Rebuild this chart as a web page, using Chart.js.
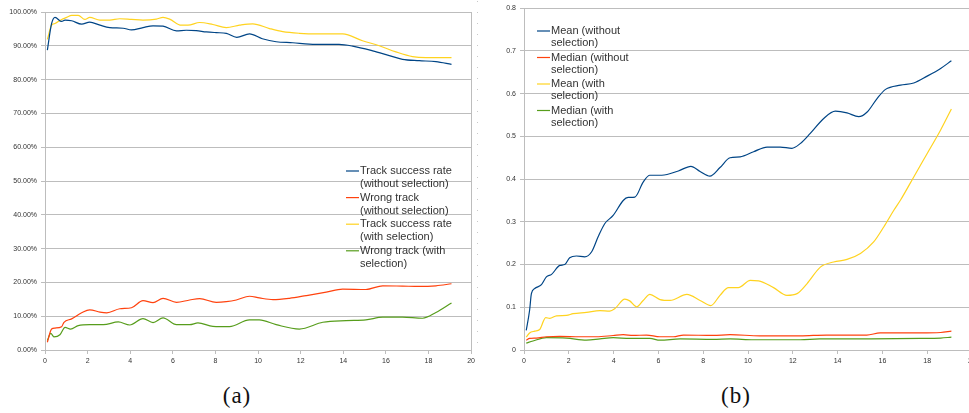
<!DOCTYPE html>
<html>
<head>
<meta charset="utf-8">
<script src="https://cdn.jsdelivr.net/npm/chart.js@4.4.1/dist/chart.umd.min.js"></script>
<style>
  html, body { margin: 0; padding: 0; background: #fff; overflow: hidden; width: 969px; height: 413px; }
  canvas { position: absolute; top: 0; }
  #ca { left: 0; }
  #cb { left: 480px; }
  .cap { position: absolute; top: 383px; width: 60px; text-align: center; font-family: "Liberation Serif", "DejaVu Serif", serif; font-size: 23px; line-height: 26px; color: #111; letter-spacing: 1px; }
  #dots { position: absolute; left: 477px; top: 1px; width: 1px; height: 345px;
          background: repeating-linear-gradient(to bottom, #c8c8c8 0, #c8c8c8 1px, transparent 1px, transparent 11px); }
</style>
</head>
<body>
<canvas id="ca" width="478" height="372"></canvas>
<div id="dots"></div>
<canvas id="cb" width="500" height="372"></canvas>
<div class="cap" style="left:207px">(a)</div>
<div class="cap" style="left:706px">(b)</div>
<script>
// ---- chart (a): track rates in percent ----
var aSuccessNoX = [0.11, 0.31, 0.47, 0.78, 0.94, 1.25, 1.72, 2.1, 2.58, 3.04, 3.67, 4.06, 4.6, 5.07, 5.54, 6.17, 6.63, 7.1, 7.57, 8.04, 8.51, 9.0, 9.6, 10.2, 10.85, 11.63, 12.4, 13.2, 13.8, 14.44, 15.38, 16.16, 16.78, 17.56, 18.35, 19.08];
var aSuccessNoY = [88.7, 96.6, 98.4, 97.2, 97.6, 97.4, 96.4, 97.0, 96.1, 95.4, 95.2, 94.7, 95.4, 95.9, 95.8, 94.4, 94.6, 94.5, 94.1, 93.9, 93.7, 92.5, 93.5, 92.1, 91.2, 90.9, 90.5, 90.4, 90.4, 89.9, 88.5, 87.1, 86.0, 85.6, 85.3, 84.5];

var aWrongNoX = [0.11, 0.31, 0.47, 0.78, 0.89, 1.25, 1.72, 2.1, 2.58, 2.9, 3.51, 4.06, 4.6, 5.07, 5.54, 6.17, 6.79, 7.26, 8.04, 8.51, 8.98, 9.6, 10.06, 10.7, 11.47, 12.26, 13.2, 13.97, 15.06, 15.85, 16.78, 17.56, 18.35, 19.08];
var aWrongNoY = [2.3, 6.2, 6.5, 6.9, 8.2, 9.2, 11.0, 11.9, 11.2, 11.0, 12.2, 12.5, 14.6, 14.0, 15.3, 14.1, 14.8, 15.2, 14.1, 14.3, 14.8, 15.9, 15.4, 14.9, 15.3, 16.1, 17.1, 18.0, 17.9, 19.0, 18.9, 18.8, 19.0, 19.6];

var aSuccessSelX = [0.11, 0.31, 0.47, 0.78, 1.02, 1.25, 1.56, 1.87, 2.1, 2.58, 3.04, 3.51, 4.06, 4.6, 5.23, 5.54, 5.85, 6.4, 6.71, 7.26, 7.88, 8.51, 9.13, 9.75, 10.54, 11.16, 11.94, 12.73, 13.97, 14.9, 15.69, 16.47, 17.25, 17.88, 19.08];
var aSuccessSelY = [91.9, 96.1, 96.6, 97.8, 98.4, 99.0, 99.0, 97.8, 98.4, 97.6, 97.6, 98.0, 97.8, 97.6, 97.9, 98.4, 97.9, 96.1, 96.1, 96.9, 96.3, 95.4, 96.1, 96.5, 95.1, 94.2, 93.7, 93.5, 93.5, 91.5, 90.0, 88.2, 86.8, 86.5, 86.5];

var aWrongSelX = [0.11, 0.27, 0.42, 0.7, 0.94, 1.2, 1.56, 2.1, 2.74, 3.44, 3.98, 4.6, 5.07, 5.54, 6.17, 6.79, 7.18, 7.88, 8.66, 9.6, 10.06, 10.85, 11.94, 13.04, 14.13, 15.06, 15.85, 16.78, 17.72, 18.35, 19.08];
var aWrongSelY = [2.8, 4.9, 3.9, 4.5, 6.7, 6.2, 7.2, 7.5, 7.5, 8.3, 7.4, 9.3, 8.1, 9.5, 7.5, 7.5, 8.0, 7.0, 6.9, 8.9, 8.9, 7.5, 6.2, 8.2, 8.7, 8.9, 9.7, 9.7, 9.4, 11.1, 13.9];

var aLegend = [
  ["Track success rate", "(without selection)"],
  ["Wrong track", "(without selection)"],
  ["Track success rate", "(with selection)"],
  ["Wrong track (with", "selection)"]
];

// ---- chart (b): mean / median ----
var bMeanNoX = [0.1, 0.25, 0.33, 0.48, 0.78, 1.0, 1.23, 1.6, 1.82, 2.04, 2.34, 2.71, 3.02, 3.31, 3.61, 3.98, 4.43, 4.65, 4.95, 5.32, 5.62, 6.15, 6.89, 7.45, 7.86, 8.3, 8.75, 9.2, 9.65, 10.25, 10.85, 11.44, 11.96, 12.33, 12.78, 13.38, 13.9, 14.42, 14.94, 15.32, 15.77, 16.14, 16.81, 17.4, 18.0, 18.6, 19.08];
var bMeanNoY = [0.046, 0.093, 0.132, 0.144, 0.153, 0.171, 0.177, 0.198, 0.2, 0.216, 0.22, 0.218, 0.23, 0.265, 0.296, 0.315, 0.35, 0.357, 0.358, 0.393, 0.409, 0.409, 0.419, 0.43, 0.418, 0.407, 0.427, 0.45, 0.452, 0.464, 0.475, 0.475, 0.472, 0.483, 0.507, 0.542, 0.559, 0.555, 0.546, 0.557, 0.589, 0.61, 0.62, 0.625, 0.641, 0.659, 0.677];

var bMedianNoX = [0.1, 0.25, 0.55, 1.0, 1.6, 2.49, 3.24, 3.98, 4.43, 4.87, 5.47, 6.07, 6.67, 7.12, 8.45, 9.2, 10.53, 12.33, 13.5, 15.3, 15.9, 17.7, 18.6, 19.08];
var bMedianNoY = [0.023, 0.027, 0.028, 0.031, 0.032, 0.031, 0.031, 0.034, 0.036, 0.034, 0.035, 0.031, 0.031, 0.035, 0.034, 0.036, 0.033, 0.033, 0.035, 0.035, 0.04, 0.04, 0.041, 0.044];

var bMeanSelX = [0.1, 0.25, 0.48, 0.7, 0.97, 1.15, 1.45, 1.9, 2.19, 2.79, 3.39, 3.83, 4.06, 4.5, 4.72, 5.03, 5.32, 5.62, 6.07, 6.52, 7.27, 7.86, 8.34, 8.75, 9.13, 9.57, 10.1, 10.47, 11.14, 11.74, 12.19, 12.63, 13.23, 13.82, 14.42, 15.02, 15.61, 16.06, 16.51, 16.81, 17.4, 18.0, 18.6, 19.08];
var bMeanSelY = [0.03, 0.04, 0.044, 0.048, 0.076, 0.074, 0.08, 0.081, 0.085, 0.088, 0.092, 0.091, 0.097, 0.119, 0.115, 0.101, 0.116, 0.13, 0.118, 0.116, 0.13, 0.116, 0.104, 0.128, 0.146, 0.146, 0.163, 0.162, 0.146, 0.128, 0.132, 0.155, 0.194, 0.206, 0.212, 0.226, 0.253, 0.288, 0.327, 0.351, 0.405, 0.46, 0.515, 0.564];

var bMedianSelX = [0.1, 0.4, 1.0, 1.9, 2.79, 3.39, 3.98, 4.72, 5.62, 6.07, 6.97, 8.45, 9.2, 10.25, 12.33, 13.2, 15.5, 17.7, 18.6, 19.08];
var bMedianSelY = [0.016, 0.021, 0.029, 0.028, 0.023, 0.026, 0.029, 0.027, 0.027, 0.023, 0.026, 0.025, 0.026, 0.024, 0.024, 0.026, 0.026, 0.027, 0.028, 0.030];

var bLegend = [
  ["Mean (without", "selection)"],
  ["Median (without", "selection)"],
  ["Mean (with", "selection)"],
  ["Median (with", "selection)"]
];

var xTicks = [0, 2, 4, 6, 8, 10, 12, 14, 16, 18, 20];

// LibreOffice default palette
var colors = ["#004586", "#ff420e", "#ffd320", "#579d1c"];
var gridColor = "#bdbdbd";
var tickFont = { family: "Liberation Sans", size: 7 };

function pts(xs, ys) {
  return xs.map((x, i) => ({ x: x, y: ys[i] }));
}

function line(xs, ys, color) {
  return {
    data: pts(xs, ys),
    borderColor: color,
    borderWidth: 1.2,
    pointRadius: 0,
    cubicInterpolationMode: "monotone",
    fill: false
  };
}

// legend drawn as free text lines, like the office chart
var textLegend = {
  id: "textLegend",
  afterDraw(chart, args, opts) {
    var c = chart.ctx;
    c.save();
    c.font = "11px 'Liberation Sans'";
    c.fillStyle = "#333";
    c.textBaseline = "middle";
    opts.items.forEach((lines, i) => {
      var y0 = opts.y + i * opts.entryGap;
      c.strokeStyle = colors[i];
      c.lineWidth = 1.2;
      c.beginPath();
      c.moveTo(opts.x, y0);
      c.lineTo(opts.x + 13, y0);
      c.stroke();
      lines.forEach((t, j) => c.fillText(t, opts.x + 14, y0 + j * opts.lineGap));
    });
    c.restore();
  }
};

// right frame line of the plot area
var rightFrame = {
  id: "rightFrame",
  beforeDatasetsDraw(chart) {
    var a = chart.chartArea, c = chart.ctx;
    c.save();
    c.strokeStyle = gridColor;
    c.lineWidth = 1;
    c.beginPath();
    c.moveTo(Math.round(a.right) + 0.5, a.top);
    c.lineTo(Math.round(a.right) + 0.5, a.bottom);
    c.stroke();
    c.restore();
  }
};

function scalesFor(yMax, yStep, fmt) {
  return {
    x: {
      type: "linear", min: 0, max: 20,
      afterBuildTicks: s => { s.ticks = xTicks.map(v => ({ value: v })); },
      afterFit: s => { s.height = 22; },
      grid: { drawOnChartArea: false, drawTicks: true, tickLength: 4, tickColor: gridColor },
      border: { color: gridColor },
      ticks: { font: tickFont, color: "#333", padding: 3, maxRotation: 0, autoSkip: false }
    },
    y: {
      min: 0, max: yMax,
      afterFit: s => { s.width = 44; },
      grid: { color: gridColor, tickLength: 4, tickColor: gridColor },
      border: { color: gridColor },
      ticks: { stepSize: yStep, font: tickFont, color: "#333", padding: 4, callback: fmt }
    }
  };
}

Chart.defaults.animation = false;

new Chart(document.getElementById("ca"), {
  type: "line",
  data: {
    datasets: [
      line(aSuccessNoX, aSuccessNoY, colors[0]),
      line(aWrongNoX, aWrongNoY, colors[1]),
      line(aSuccessSelX, aSuccessSelY, colors[2]),
      line(aWrongSelX, aWrongSelY, colors[3])
    ]
  },
  options: {
    responsive: false,
    devicePixelRatio: 1,
    layout: { padding: { top: 12, right: 5, left: 1, bottom: 0 } },
    scales: scalesFor(100, 10, v => v.toFixed(2) + "%"),
    plugins: {
      legend: { display: false },
      tooltip: { enabled: false },
      textLegend: { x: 346, y: 171, lineGap: 13, entryGap: 26.6, items: aLegend }
    }
  },
  plugins: [textLegend, rightFrame]
});

new Chart(document.getElementById("cb"), {
  type: "line",
  data: {
    datasets: [
      line(bMeanNoX, bMeanNoY, colors[0]),
      line(bMedianNoX, bMedianNoY, colors[1]),
      line(bMeanSelX, bMeanSelY, colors[2]),
      line(bMedianSelX, bMedianSelY, colors[3])
    ]
  },
  options: {
    responsive: false,
    devicePixelRatio: 1,
    layout: { padding: { top: 8, right: 8, left: 0, bottom: 0 } },
    scales: scalesFor(0.8, 0.1, v => String(Math.round(v * 10) / 10)),
    plugins: {
      legend: { display: false },
      tooltip: { enabled: false },
      textLegend: { x: 57, y: 31, lineGap: 12, entryGap: 26.5, items: bLegend }
    }
  },
  plugins: [textLegend, rightFrame]
});
</script>
</body>
</html>
